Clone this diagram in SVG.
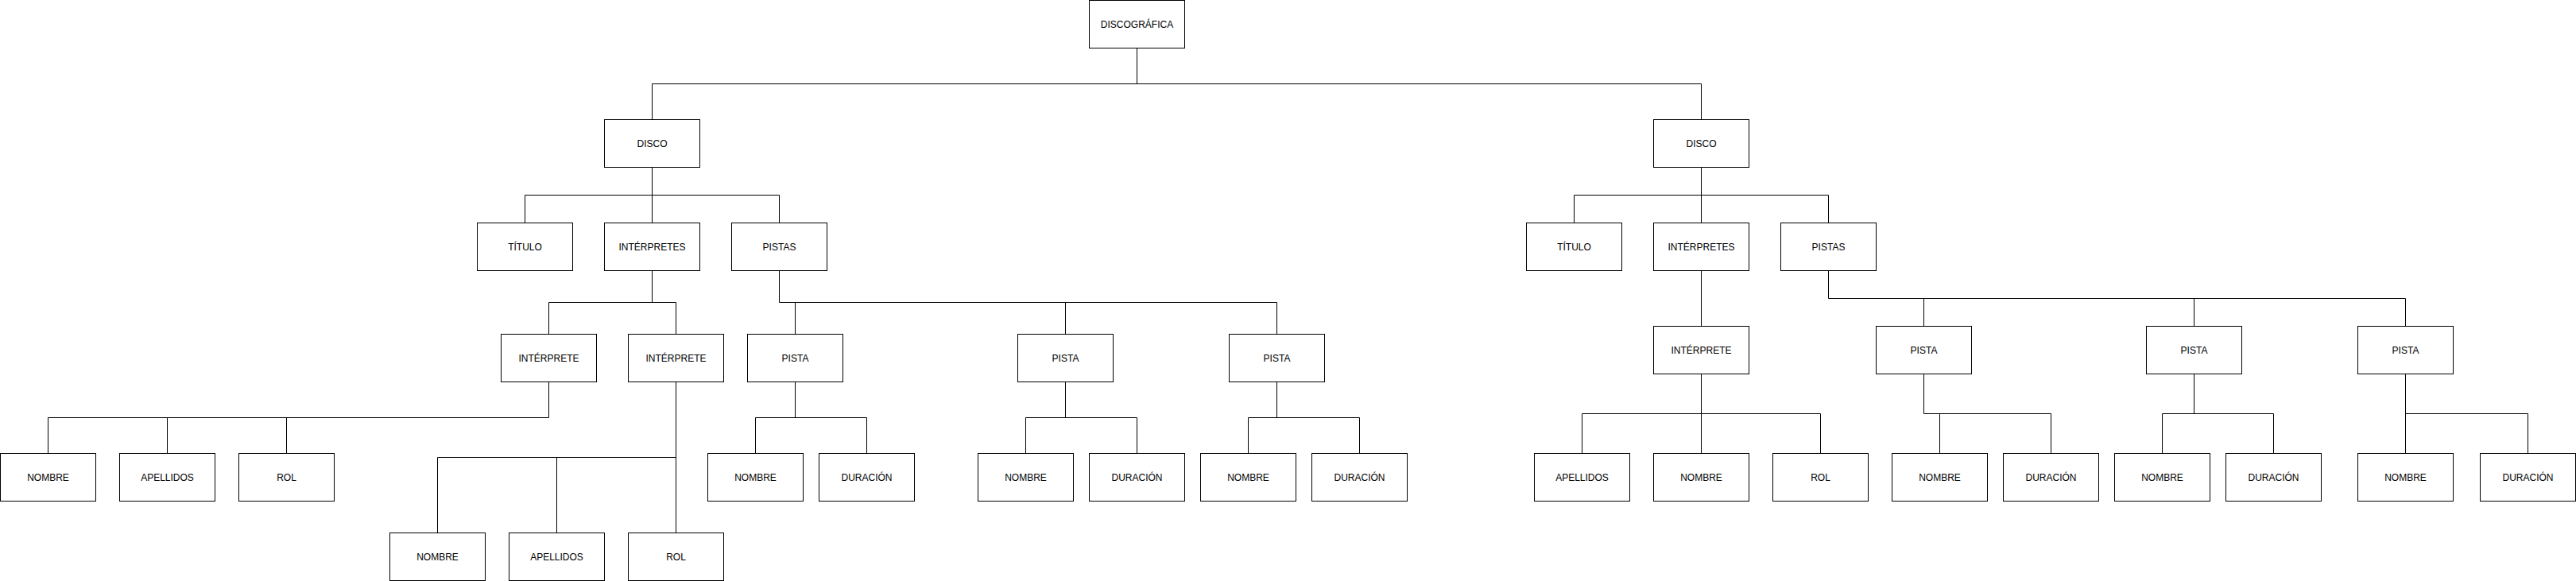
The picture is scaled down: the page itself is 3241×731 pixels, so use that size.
<svg xmlns="http://www.w3.org/2000/svg" width="3241" height="731" viewBox="0 0 3241 731">
<style>
rect.n{fill:#fff;stroke:#000;stroke-width:1}
text{font-family:"Liberation Sans",Arial,Helvetica,sans-serif;font-size:12px;fill:#000;text-anchor:middle}
#connectors path{fill:none;stroke:#000;stroke-width:1}
</style>
<rect width="3241" height="731" fill="#fff"/>
<g id="connectors">
<path d="M1430.5 60.5V105.5M820.5 105.5H2140.5M820.5 105.5V150.5M2140.5 105.5V150.5"/>
<path d="M820.5 210.5V280.5M660.5 245.5H980.5M660.5 245.5V280.5M980.5 245.5V280.5"/>
<path d="M2140.5 210.5V280.5M1980.5 245.5H2300.5M1980.5 245.5V280.5M2300.5 245.5V280.5"/>
<path d="M820.5 340.5V380.5M690.5 380.5H850.5M690.5 380.5V420.5M850.5 380.5V420.5"/>
<path d="M980.5 340.5V380.5H1606.5M1000.5 380.5V420.5M1340.5 380.5V420.5M1606.5 380.5V420.5"/>
<path d="M2140.5 340.5V410.5"/>
<path d="M2300.5 340.5V375.5H3026.5M2420.5 375.5V410.5M2760.5 375.5V410.5M3026.5 375.5V410.5"/>
<path d="M690.5 480.5V525.5H60.5M60.5 525.5V570.5M210.5 525.5V570.5M360.5 525.5V570.5"/>
<path d="M850.5 480.5V670.5M550.5 575.5H850.5M550.5 575.5V670.5M700.5 575.5V670.5"/>
<path d="M1000.5 480.5V525.5M950.5 525.5H1090.5M950.5 525.5V570.5M1090.5 525.5V570.5"/>
<path d="M1340.5 480.5V525.5M1290.5 525.5H1430.5M1290.5 525.5V570.5M1430.5 525.5V570.5"/>
<path d="M1606.5 480.5V525.5M1570.5 525.5H1710.5M1570.5 525.5V570.5M1710.5 525.5V570.5"/>
<path d="M2140.5 470.5V570.5M1990.5 520.5H2290.5M1990.5 520.5V570.5M2290.5 520.5V570.5"/>
<path d="M2420.5 470.5V520.5H2580.5M2440.5 520.5V570.5M2580.5 520.5V570.5"/>
<path d="M2760.5 470.5V520.5M2720.5 520.5H2860.5M2720.5 520.5V570.5M2860.5 520.5V570.5"/>
<path d="M3026.5 470.5V570.5M3026.5 520.5H3180.5V570.5"/>
</g>
<g id="discografica"><rect class="n" x="1370.5" y="0.5" width="120" height="60"/><text x="1430.5" y="34.5">DISCOGRÁFICA</text></g>
<g id="disco1"><rect class="n" x="760.5" y="150.5" width="120" height="60"/><text x="820.5" y="184.5">DISCO</text></g>
<g id="disco2"><rect class="n" x="2080.5" y="150.5" width="120" height="60"/><text x="2140.5" y="184.5">DISCO</text></g>
<g id="titulo1"><rect class="n" x="600.5" y="280.5" width="120" height="60"/><text x="660.5" y="314.5">TÍTULO</text></g>
<g id="interpretes1"><rect class="n" x="760.5" y="280.5" width="120" height="60"/><text x="820.5" y="314.5">INTÉRPRETES</text></g>
<g id="pistas1"><rect class="n" x="920.5" y="280.5" width="120" height="60"/><text x="980.5" y="314.5">PISTAS</text></g>
<g id="titulo2"><rect class="n" x="1920.5" y="280.5" width="120" height="60"/><text x="1980.5" y="314.5">TÍTULO</text></g>
<g id="interpretes2"><rect class="n" x="2080.5" y="280.5" width="120" height="60"/><text x="2140.5" y="314.5">INTÉRPRETES</text></g>
<g id="pistas2"><rect class="n" x="2240.5" y="280.5" width="120" height="60"/><text x="2300.5" y="314.5">PISTAS</text></g>
<g id="interprete1a"><rect class="n" x="630.5" y="420.5" width="120" height="60"/><text x="690.5" y="454.5">INTÉRPRETE</text></g>
<g id="interprete1b"><rect class="n" x="790.5" y="420.5" width="120" height="60"/><text x="850.5" y="454.5">INTÉRPRETE</text></g>
<g id="pista1a"><rect class="n" x="940.5" y="420.5" width="120" height="60"/><text x="1000.5" y="454.5">PISTA</text></g>
<g id="pista1b"><rect class="n" x="1280.5" y="420.5" width="120" height="60"/><text x="1340.5" y="454.5">PISTA</text></g>
<g id="pista1c"><rect class="n" x="1546.5" y="420.5" width="120" height="60"/><text x="1606.5" y="454.5">PISTA</text></g>
<g id="interprete2"><rect class="n" x="2080.5" y="410.5" width="120" height="60"/><text x="2140.5" y="444.5">INTÉRPRETE</text></g>
<g id="pista2a"><rect class="n" x="2360.5" y="410.5" width="120" height="60"/><text x="2420.5" y="444.5">PISTA</text></g>
<g id="pista2b"><rect class="n" x="2700.5" y="410.5" width="120" height="60"/><text x="2760.5" y="444.5">PISTA</text></g>
<g id="pista2c"><rect class="n" x="2966.5" y="410.5" width="120" height="60"/><text x="3026.5" y="444.5">PISTA</text></g>
<g id="nombre1a"><rect class="n" x="0.5" y="570.5" width="120" height="60"/><text x="60.5" y="604.5">NOMBRE</text></g>
<g id="apellidos1a"><rect class="n" x="150.5" y="570.5" width="120" height="60"/><text x="210.5" y="604.5">APELLIDOS</text></g>
<g id="rol1a"><rect class="n" x="300.5" y="570.5" width="120" height="60"/><text x="360.5" y="604.5">ROL</text></g>
<g id="nombre1b"><rect class="n" x="490.5" y="670.5" width="120" height="60"/><text x="550.5" y="704.5">NOMBRE</text></g>
<g id="apellidos1b"><rect class="n" x="640.5" y="670.5" width="120" height="60"/><text x="700.5" y="704.5">APELLIDOS</text></g>
<g id="rol1b"><rect class="n" x="790.5" y="670.5" width="120" height="60"/><text x="850.5" y="704.5">ROL</text></g>
<g id="nombrep1a"><rect class="n" x="890.5" y="570.5" width="120" height="60"/><text x="950.5" y="604.5">NOMBRE</text></g>
<g id="duracionp1a"><rect class="n" x="1030.5" y="570.5" width="120" height="60"/><text x="1090.5" y="604.5">DURACIÓN</text></g>
<g id="nombrep1b"><rect class="n" x="1230.5" y="570.5" width="120" height="60"/><text x="1290.5" y="604.5">NOMBRE</text></g>
<g id="duracionp1b"><rect class="n" x="1370.5" y="570.5" width="120" height="60"/><text x="1430.5" y="604.5">DURACIÓN</text></g>
<g id="nombrep1c"><rect class="n" x="1510.5" y="570.5" width="120" height="60"/><text x="1570.5" y="604.5">NOMBRE</text></g>
<g id="duracionp1c"><rect class="n" x="1650.5" y="570.5" width="120" height="60"/><text x="1710.5" y="604.5">DURACIÓN</text></g>
<g id="apellidos2"><rect class="n" x="1930.5" y="570.5" width="120" height="60"/><text x="1990.5" y="604.5">APELLIDOS</text></g>
<g id="nombre2"><rect class="n" x="2080.5" y="570.5" width="120" height="60"/><text x="2140.5" y="604.5">NOMBRE</text></g>
<g id="rol2"><rect class="n" x="2230.5" y="570.5" width="120" height="60"/><text x="2290.5" y="604.5">ROL</text></g>
<g id="nombrep2a"><rect class="n" x="2380.5" y="570.5" width="120" height="60"/><text x="2440.5" y="604.5">NOMBRE</text></g>
<g id="duracionp2a"><rect class="n" x="2520.5" y="570.5" width="120" height="60"/><text x="2580.5" y="604.5">DURACIÓN</text></g>
<g id="nombrep2b"><rect class="n" x="2660.5" y="570.5" width="120" height="60"/><text x="2720.5" y="604.5">NOMBRE</text></g>
<g id="duracionp2b"><rect class="n" x="2800.5" y="570.5" width="120" height="60"/><text x="2860.5" y="604.5">DURACIÓN</text></g>
<g id="nombrep2c"><rect class="n" x="2966.5" y="570.5" width="120" height="60"/><text x="3026.5" y="604.5">NOMBRE</text></g>
<g id="duracionp2c"><rect class="n" x="3120.5" y="570.5" width="120" height="60"/><text x="3180.5" y="604.5">DURACIÓN</text></g>
</svg>
